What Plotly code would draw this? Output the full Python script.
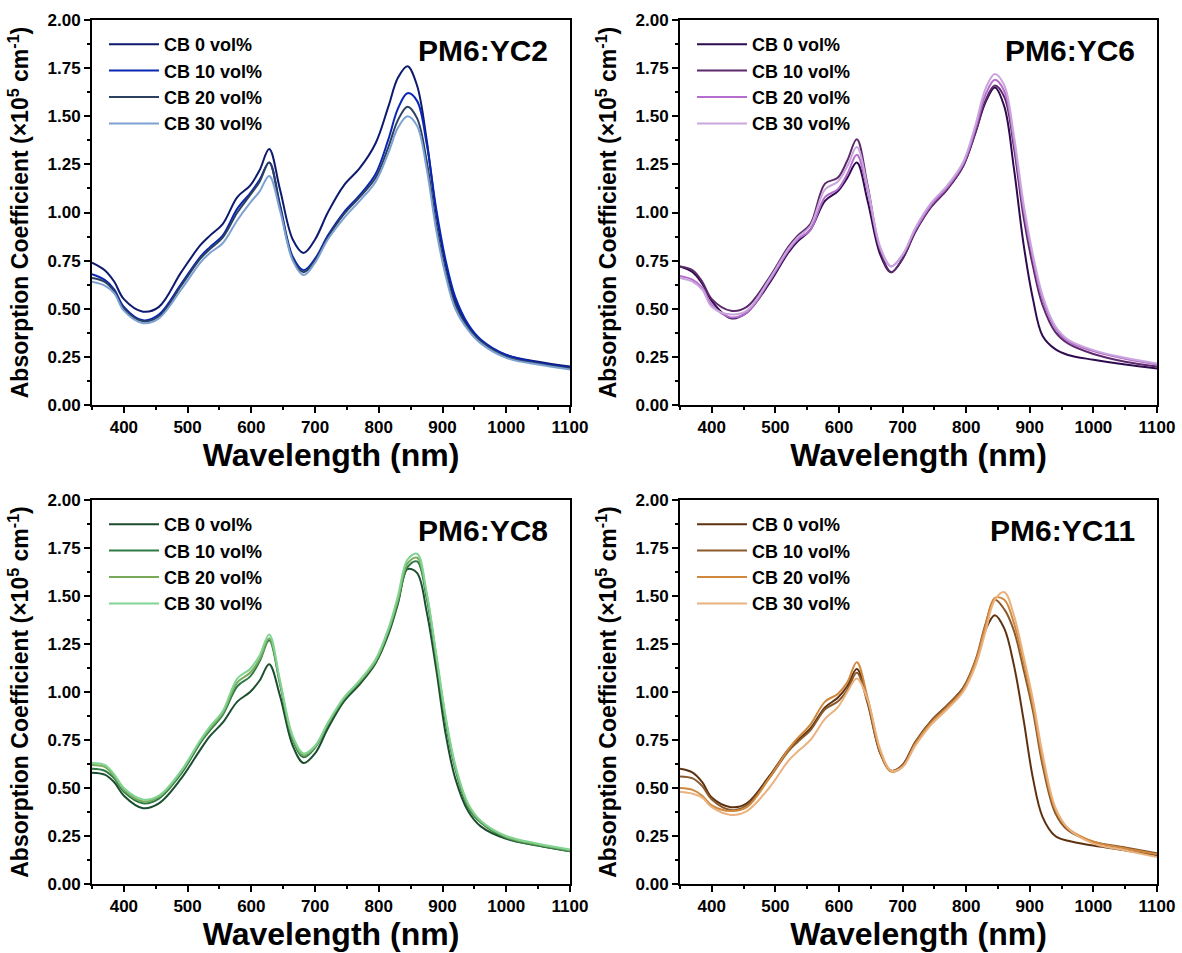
import plotly.graph_objects as go

# Wavelength grid (nm)
W = [350, 370, 385, 400, 430, 455, 490, 520, 535, 555, 578, 598, 613, 628, 645, 665, 682, 700, 720, 745,
     770, 795, 815, 830, 845, 860, 875, 890, 905, 920, 940, 960, 1000, 1050, 1100]

series_names = ["CB 0 vol%", "CB 10 vol%", "CB 20 vol%", "CB 30 vol%"]

# PM6:YC2
yc2_cb0 = [0.74, 0.70, 0.64, 0.55, 0.485, 0.51, 0.69, 0.83, 0.88, 0.94, 1.08, 1.14, 1.22, 1.33, 1.12, 0.86, 0.79, 0.86, 1.00, 1.14,
           1.23, 1.36, 1.55, 1.70, 1.76, 1.66, 1.38, 1.00, 0.73, 0.54, 0.41, 0.33, 0.26, 0.225, 0.20]
yc2_cb10 = [0.68, 0.65, 0.60, 0.51, 0.44, 0.47, 0.63, 0.77, 0.82, 0.88, 1.02, 1.10, 1.17, 1.26, 1.04, 0.77, 0.70, 0.76, 0.88, 1.00,
            1.09, 1.20, 1.38, 1.54, 1.62, 1.58, 1.36, 1.02, 0.75, 0.56, 0.42, 0.34, 0.26, 0.22, 0.195]
yc2_cb20 = [0.66, 0.64, 0.59, 0.50, 0.435, 0.46, 0.62, 0.76, 0.81, 0.87, 1.00, 1.09, 1.16, 1.26, 1.03, 0.76, 0.69, 0.75, 0.87, 0.99,
            1.08, 1.18, 1.34, 1.48, 1.55, 1.49, 1.27, 0.94, 0.69, 0.52, 0.40, 0.33, 0.25, 0.215, 0.19]
yc2_cb30 = [0.64, 0.62, 0.58, 0.49, 0.425, 0.45, 0.60, 0.74, 0.79, 0.84, 0.96, 1.05, 1.11, 1.19, 1.01, 0.75, 0.675, 0.74, 0.86, 0.97,
            1.06, 1.16, 1.31, 1.44, 1.50, 1.45, 1.23, 0.91, 0.67, 0.50, 0.39, 0.32, 0.245, 0.21, 0.185]

# PM6:YC6
yc6_cb0 = [0.72, 0.69, 0.63, 0.54, 0.45, 0.48, 0.63, 0.79, 0.85, 0.91, 1.06, 1.11, 1.18, 1.26, 1.06, 0.78, 0.69, 0.76, 0.90, 1.03,
           1.12, 1.24, 1.42, 1.57, 1.65, 1.55, 1.23, 0.84, 0.55, 0.36, 0.29, 0.26, 0.235, 0.21, 0.19]
yc6_cb10 = [0.72, 0.70, 0.64, 0.55, 0.49, 0.51, 0.66, 0.82, 0.88, 0.94, 1.15, 1.18, 1.27, 1.38, 1.14, 0.80, 0.69, 0.76, 0.90, 1.03,
            1.12, 1.24, 1.42, 1.58, 1.66, 1.60, 1.34, 0.98, 0.72, 0.52, 0.38, 0.32, 0.265, 0.225, 0.20]
yc6_cb20 = [0.67, 0.65, 0.61, 0.52, 0.455, 0.48, 0.64, 0.80, 0.86, 0.91, 1.08, 1.12, 1.20, 1.30, 1.11, 0.81, 0.72, 0.78, 0.91, 1.04,
            1.13, 1.25, 1.44, 1.61, 1.69, 1.63, 1.37, 1.02, 0.76, 0.55, 0.40, 0.33, 0.28, 0.24, 0.21]
yc6_cb30 = [0.66, 0.64, 0.60, 0.51, 0.47, 0.49, 0.65, 0.81, 0.87, 0.93, 1.12, 1.16, 1.24, 1.34, 1.13, 0.82, 0.72, 0.78, 0.92, 1.05,
            1.14, 1.26, 1.46, 1.64, 1.72, 1.66, 1.40, 1.05, 0.78, 0.57, 0.41, 0.34, 0.285, 0.245, 0.215]

# PM6:YC8
yc8_cb0 = [0.58, 0.57, 0.53, 0.46, 0.395, 0.42, 0.55, 0.70, 0.77, 0.84, 0.95, 1.00, 1.06, 1.145, 0.98, 0.72, 0.63, 0.68, 0.81, 0.95,
           1.04, 1.15, 1.30, 1.46, 1.64, 1.62, 1.42, 1.12, 0.78, 0.55, 0.38, 0.30, 0.235, 0.20, 0.17]
yc8_cb10 = [0.60, 0.59, 0.55, 0.48, 0.42, 0.445, 0.575, 0.735, 0.80, 0.88, 1.03, 1.08, 1.16, 1.27, 1.04, 0.75, 0.66, 0.71, 0.83, 0.96,
            1.05, 1.16, 1.31, 1.47, 1.65, 1.68, 1.49, 1.17, 0.84, 0.60, 0.40, 0.32, 0.24, 0.20, 0.17]
yc8_cb20 = [0.62, 0.61, 0.56, 0.49, 0.43, 0.455, 0.585, 0.745, 0.81, 0.89, 1.05, 1.10, 1.17, 1.28, 1.05, 0.76, 0.67, 0.715, 0.835, 0.965,
            1.055, 1.16, 1.32, 1.48, 1.67, 1.70, 1.51, 1.19, 0.86, 0.61, 0.41, 0.325, 0.245, 0.205, 0.175]
yc8_cb30 = [0.63, 0.62, 0.57, 0.50, 0.44, 0.46, 0.59, 0.75, 0.82, 0.90, 1.07, 1.12, 1.19, 1.30, 1.06, 0.77, 0.68, 0.72, 0.84, 0.97,
            1.06, 1.17, 1.33, 1.50, 1.69, 1.72, 1.52, 1.20, 0.87, 0.62, 0.42, 0.33, 0.25, 0.21, 0.18]

# PM6:YC11
yc11_cb0 = [0.60, 0.58, 0.53, 0.45, 0.40, 0.42, 0.56, 0.70, 0.75, 0.81, 0.92, 0.97, 1.03, 1.12, 0.95, 0.68, 0.59, 0.62, 0.74, 0.85,
            0.93, 1.02, 1.16, 1.32, 1.40, 1.33, 1.14, 0.86, 0.55, 0.35, 0.25, 0.225, 0.20, 0.175, 0.15]
yc11_cb10 = [0.56, 0.55, 0.51, 0.44, 0.385, 0.41, 0.55, 0.69, 0.74, 0.80, 0.91, 0.95, 1.01, 1.10, 0.94, 0.68, 0.59, 0.62, 0.74, 0.85,
             0.93, 1.02, 1.17, 1.35, 1.48, 1.43, 1.32, 1.12, 0.90, 0.62, 0.37, 0.28, 0.22, 0.19, 0.16]
yc11_cb20 = [0.50, 0.49, 0.46, 0.41, 0.38, 0.40, 0.55, 0.70, 0.76, 0.83, 0.95, 0.99, 1.05, 1.155, 0.97, 0.69, 0.585, 0.61, 0.73, 0.84,
             0.92, 1.01, 1.16, 1.34, 1.49, 1.48, 1.36, 1.16, 0.93, 0.65, 0.39, 0.29, 0.22, 0.185, 0.155]
yc11_cb30 = [0.48, 0.47, 0.45, 0.40, 0.36, 0.38, 0.50, 0.64, 0.69, 0.75, 0.86, 0.92, 1.00, 1.07, 0.96, 0.70, 0.59, 0.61, 0.72, 0.83,
             0.91, 1.00, 1.14, 1.31, 1.48, 1.52, 1.40, 1.19, 0.96, 0.68, 0.40, 0.29, 0.21, 0.175, 0.14]

colors_yc2 = ["#0d1a6e", "#0a26b4", "#2c4060", "#7da2d2"]
colors_yc6 = ["#2e0b4f", "#5c2a6a", "#b66ccc", "#c9a6dd"]
colors_yc8 = ["#1b4d2e", "#2f7a45", "#78aa5a", "#80d494"]
colors_yc11 = ["#5e3210", "#8a5a2c", "#d0883e", "#eab27e"]

panels = [
    ("PM6:YC2", [yc2_cb0, yc2_cb10, yc2_cb20, yc2_cb30], colors_yc2),
    ("PM6:YC6", [yc6_cb0, yc6_cb10, yc6_cb20, yc6_cb30], colors_yc6),
    ("PM6:YC8", [yc8_cb0, yc8_cb10, yc8_cb20, yc8_cb30], colors_yc8),
    ("PM6:YC11", [yc11_cb0, yc11_cb10, yc11_cb20, yc11_cb30], colors_yc11),
]

FW, FH = 1182, 953
# plot-area pixel boxes (left, right, top, bottom)
boxes = [(92, 570, 20, 405), (680, 1157, 20, 405), (92, 570, 500, 884), (680, 1157, 500, 884)]

FONT = "Liberation Sans, Arial, sans-serif"

fig = go.Figure()
layout = dict(width=FW, height=FH, autosize=False, margin=dict(l=0, r=0, t=0, b=0, autoexpand=False),
              plot_bgcolor="white", paper_bgcolor="white", showlegend=True,
              font=dict(family=FONT, color="black"))
annotations = []

for i, (label, data, cols) in enumerate(panels):
    sfx = "" if i == 0 else str(i + 1)
    l, r, t, b = boxes[i]
    for j, (vals, c) in enumerate(zip(data, cols)):
        fig.add_trace(go.Scatter(
            x=W, y=vals, mode="lines", name=series_names[j],
            line=dict(color=c, width=2, shape="spline", smoothing=1.0),
            xaxis="x" + sfx, yaxis="y" + sfx, legend="legend" + sfx,
            legendgroup=f"g{i}_{j}",
        ))
    layout["xaxis" + sfx] = dict(
        domain=[l / FW, r / FW], anchor="y" + sfx, range=[350, 1100], automargin=False,
        tick0=0, dtick=100, ticks="outside", ticklen=6, tickwidth=2, tickcolor="black",
        minor=dict(dtick=50, ticks="outside", ticklen=3, tickwidth=1.5, tickcolor="black"),
        showline=True, linecolor="black", linewidth=2, mirror=True,
        showgrid=False, zeroline=False,
        tickfont=dict(family=FONT, size=17, color="black", weight="bold"),
        title=dict(text="Wavelength (nm)", font=dict(family=FONT, size=32, color="black", weight="bold"), standoff=2),
    )
    layout["yaxis" + sfx] = dict(
        domain=[1 - b / FH, 1 - t / FH], anchor="x" + sfx, range=[0, 2], automargin=False,
        tick0=0, dtick=0.25, tickformat=".2f", ticks="outside", ticklen=6, tickwidth=2, tickcolor="black",
        minor=dict(dtick=0.125, ticks="outside", ticklen=3, tickwidth=1.5, tickcolor="black"),
        showline=True, linecolor="black", linewidth=2, mirror=True,
        showgrid=False, zeroline=False,
        tickfont=dict(family=FONT, size=17, color="black", weight="bold"),
        title=dict(text="Absorption Coefficient (×10<sup>5</sup> cm<sup>-1</sup>)",
                   font=dict(family=FONT, size=23, color="black", weight="bold"), standoff=12),
    )
    layout["legend" + sfx] = dict(
        x=(l + 12) / FW, y=1 - (t + 6) / FH, xanchor="left", yanchor="top",
        bgcolor="rgba(0,0,0,0)", tracegroupgap=0, traceorder="grouped", itemwidth=50,
        font=dict(family=FONT, size=18, color="black", weight="bold"),
    )
    annotations.append(dict(
        text=label, x=(r - 20) / FW, y=1 - (t + 30) / FH, xref="paper", yref="paper",
        xanchor="right", yanchor="middle", showarrow=False,
        font=dict(family=FONT, size=30, color="black", weight="bold"),
    ))

layout["annotations"] = annotations
fig.update_layout(**layout)
fig.write_html(
    "out.html",
    config={"responsive": False},
    post_script="document.body.style.margin='0';document.body.style.overflow='hidden';"
                "Plotly.relayout('{plot_id}', {width: 1182, height: 953, autosize: false});",
)
